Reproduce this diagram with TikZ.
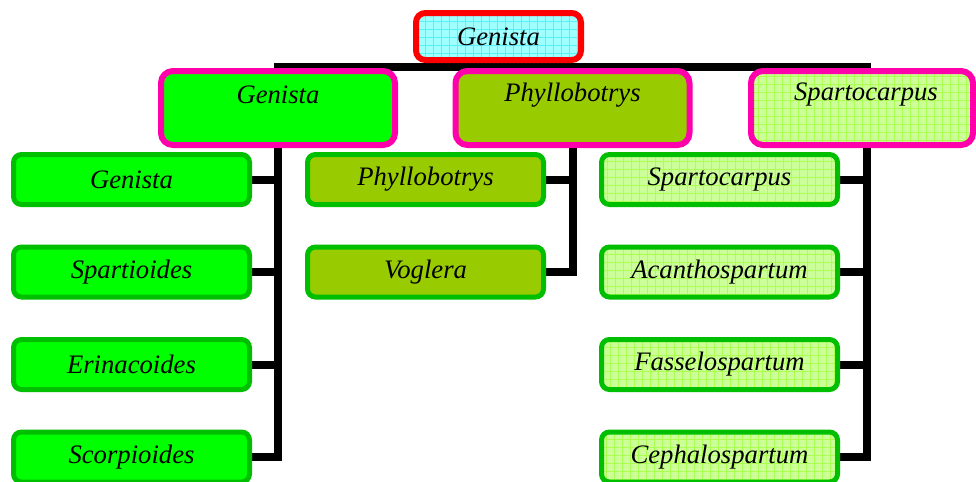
\documentclass[tikz,border=0pt]{standalone}
\usepackage{fontspec}
\setmainfont{Liberation Serif}
\definecolor{cred}{RGB}{255,0,0}
\definecolor{cmag}{RGB}{255,0,170}
\definecolor{cbord}{RGB}{0,190,0}
\definecolor{cgreen}{RGB}{0,255,0}
\definecolor{cphyl}{RGB}{153,204,0}
\definecolor{cspfill}{RGB}{204,255,153}
\definecolor{cspgrid}{RGB}{170,255,80}
\definecolor{ctopfill}{RGB}{160,255,255}
\definecolor{ctopgrid}{RGB}{90,240,250}
\pgfdeclarelayer{bg}\pgfsetlayers{bg,main}
\tikzset{
  gridfill/.style={path picture={\draw[#1, line width=0.45pt, step=6pt]
     ([shift={(-10pt,-10pt)}]path picture bounding box.south west) grid
     ([shift={(10pt,10pt)}]path picture bounding box.north east);}},
  txt/.style={font=\fontsize{20}{24}\selectfont\itshape, inner sep=0pt},
  topbox/.style={txt, draw=cred, line width=4.5pt, rounded corners=7pt,
     fill=ctopfill, gridfill=ctopgrid, minimum width=123.75pt, minimum height=35.25pt},
  lonebox/.style={draw=cmag, line width=4.5pt, rounded corners=9pt,
     minimum width=175.5pt, minimum height=55.5pt, inner sep=0pt},
  ltwobox/.style={txt, draw=cbord, line width=3.75pt, rounded corners=6pt,
     minimum width=177pt, minimum height=37.5pt},
  spfill/.style={fill=cspfill, gridfill=cspgrid},
  conn/.style={draw=black, line width=6pt, line join=miter},
}
\begin{document}
\begin{tikzpicture}[x=0.75pt,y=-0.75pt]
\useasboundingbox (0,0) rectangle (976,482);
% top
\node[topbox] (top) at (498.5,36.5) {Genista};
% level 1
\node[lonebox, fill=cgreen] (ga) at (278,108) {};
\node[lonebox, fill=cphyl] (pa) at (572.5,108) {};
\node[lonebox, spfill, minimum width=166.5pt] (sa) at (862,108) {};
\node[txt] (gat) at ([yshift=9.75pt]ga.center) {Genista};
\node[txt] (pat) at ([yshift=9.75pt]pa.center) {Phyllobotrys};
\node[txt] (sat) at ([shift={(3pt,9.75pt)}]sa.center) {Spartocarpus};
% level 2 Genista
\node[ltwobox, fill=cgreen] (g1) at (131.5,179.5) {Genista};
\node[ltwobox, fill=cgreen] (g2) at (131.5,272) {Spartioides};
\node[ltwobox, fill=cgreen] (g3) at (131.5,364.5) {Erinacoides};
\node[ltwobox, fill=cgreen] (g4) at (131.5,457) {Scorpioides};
% level 2 Phyllobotrys
\node[ltwobox, fill=cphyl] (p1) at (425.5,179.5) {Phyllobotrys};
\node[ltwobox, fill=cphyl] (p2) at (425.5,272) {Voglera};
% level 2 Spartocarpus
\node[ltwobox, spfill] (s1) at (719.5,179.5) {Spartocarpus};
\node[ltwobox, spfill] (s2) at (719.5,272) {Acanthospartum};
\node[ltwobox, spfill] (s3) at (719.5,364.5) {Fasselospartum};
\node[ltwobox, spfill] (s4) at (719.5,457) {Cephalospartum};
% connectors
\coordinate (bus) at (498,66.5);
\coordinate (sv) at (867,148);
\begin{pgfonlayer}{bg}
\draw[conn, line cap=rect] (bus -| ga.north) -- (bus -| sv);
\draw[conn] (top.south) -- (bus);
\draw[conn] (ga.south) |- (g4.east);
\draw[conn] (g1.east) -- (g1.east -| ga.south);
\draw[conn] (g2.east) -- (g2.east -| ga.south);
\draw[conn] (g3.east) -- (g3.east -| ga.south);
\draw[conn] (pa.south) |- (p2.east);
\draw[conn] (p1.east) -- (p1.east -| pa.south);
\draw[conn] (sv) |- (s4.east);
\draw[conn] (s1.east) -- (s1.east -| sv);
\draw[conn] (s2.east) -- (s2.east -| sv);
\draw[conn] (s3.east) -- (s3.east -| sv);
\end{pgfonlayer}
\end{tikzpicture}
\end{document}
